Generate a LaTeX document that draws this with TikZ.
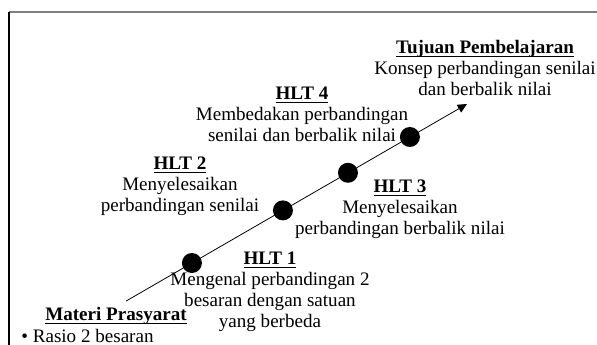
\documentclass[tikz,border=0pt]{standalone}
\usepackage{fontspec}
\setmainfont{Liberation Serif}
\usetikzlibrary{arrows.meta, calc}

\newcommand{\hlthead}[1]{\setbox0\hbox{\textbf{#1}}\rlap{\rule[-2.6pt]{\wd0}{0.8pt}}\box0}

\begin{document}
\begin{tikzpicture}[x=0.75pt, y=-0.75pt, >={Triangle[length=7pt, width=6.5pt]}, line width=0.6pt,
                every node/.style={
                        inner sep=0pt,
                        font=\fontsize{14.3}{15.8}\selectfont},
                hlt/.style={align=center},
                dot/.style={circle, fill=black, minimum size=15pt}]

                \useasboundingbox (0,0) rectangle (597,345);

                % frame
                \draw[gray, line width=1.4pt] (597,12) -- (9,12);
                \draw[line width=0.8pt] (9,12) -- (9,345);

                \coordinate (start) at (121,304);
                \coordinate (end) at (467,104);

                \draw[->] ($(start)!0.015!(end)$) -- (end);

                \path (start) -- (end)
                        node[dot, pos=0.205] (d1) {}
                        node[dot, pos=0.468] (d2) {}
                        node[dot, pos=0.656] (d3) {}
                        node[dot, pos=0.835] (d4) {};

                \node[hlt] (tujuan) at (485,68) {\hlthead{Tujuan Pembelajaran}\\Konsep perbandingan senilai\\dan berbalik nilai};

                \node[hlt] (hlt4) at (302,114) {\hlthead{HLT 4}\\Membedakan perbandingan\\senilai dan berbalik nilai};

                \node[hlt] (hlt2) at (180,186) {\hlthead{HLT 2}\\Menyelesaikan\\perbandingan senilai};

                \node[hlt] (hlt3) at (400,209) {\hlthead{HLT 3}\\Menyelesaikan\\perbandingan berbalik nilai};

                \node[hlt] (hlt1) at (270,292) {\hlthead{HLT 1}\\Mengenal perbandingan 2\\besaran dengan satuan\\yang berbeda};

                \node (materi) at (116,316) {\hlthead{Materi Prasyarat}};

                \node[anchor=west] (rasio) at (21,336) {\textbullet\ Rasio 2 besaran};
            \end{tikzpicture}
\end{document}
